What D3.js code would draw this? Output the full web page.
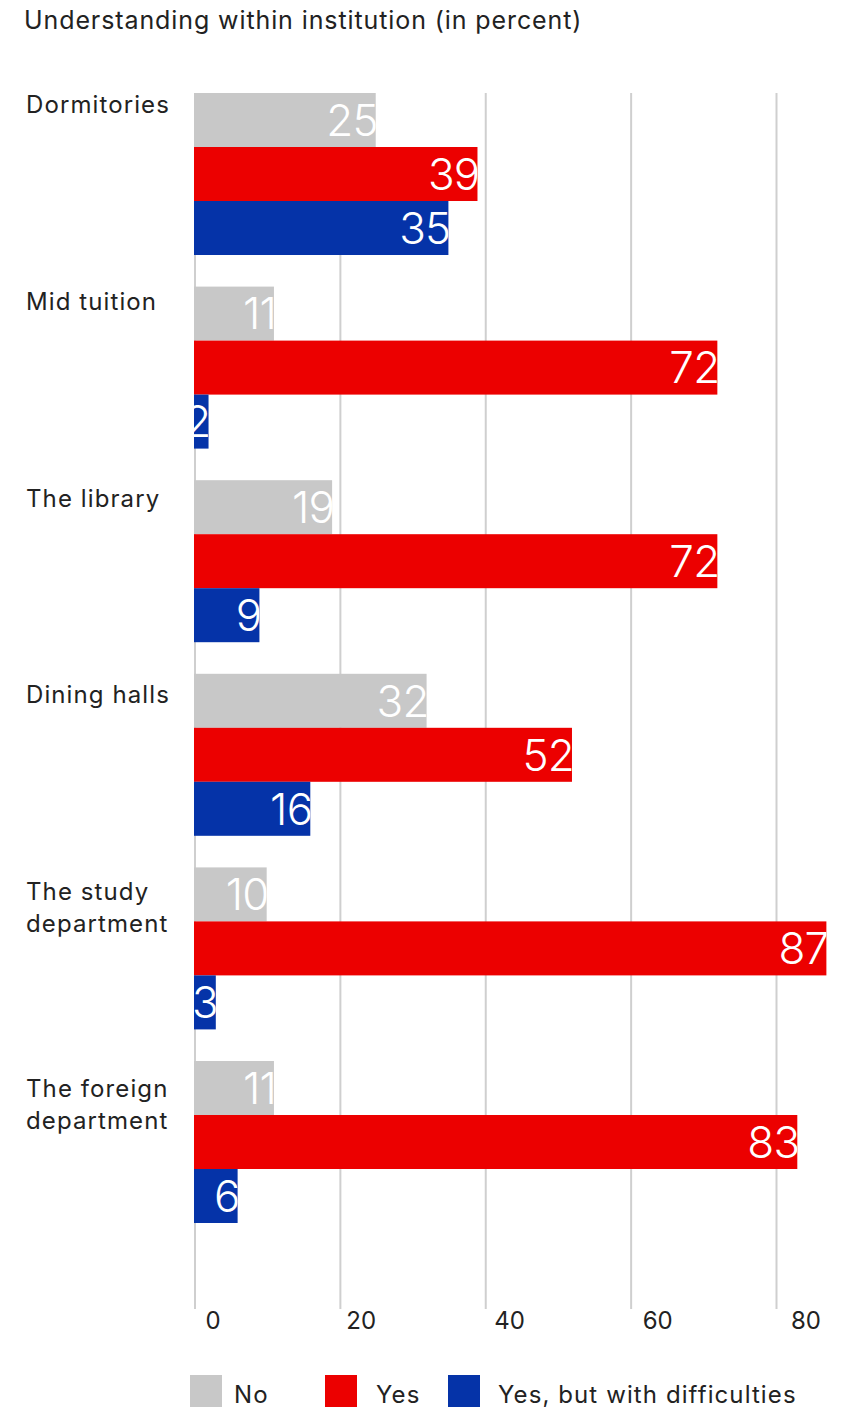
<!DOCTYPE html>
<html>
<head>
<meta charset="utf-8">
<script src="https://cdn.jsdelivr.net/npm/d3@7"></script>
<style>
  html, body { margin: 0; padding: 0; background: #ffffff; }
  svg { display: block; font-family: "Inter", "Noto Sans", sans-serif; }
</style>
</head>
<body>
<svg id="chart" width="866" height="1408"></svg>
<script>
// Survey: where respondents were understood within the institution (percent)
const title = "Understanding within institution (in percent)";
const categories = [
  "Dormitories",
  "Mid tuition",
  "The library",
  "Dining halls",
  "The study department",
  "The foreign department"
];
const seriesNames = ["No", "Yes", "Yes, but with difficulties"];
const noValues = [25, 11, 19, 32, 10, 11];
const yesValues = [39, 72, 72, 52, 87, 83];
const difficultValues = [35, 2, 9, 16, 3, 6];
const tickValues = [0, 20, 40, 60, 80];
const colors = ["#c8c8c8", "#ec0000", "#0533a8"];

const series = [noValues, yesValues, difficultValues];
const rows = categories.map((c, i) => ({
  category: c,
  values: series.map((s, k) => ({ key: seriesNames[k], value: s[i], idx: k }))
}));

const svg = d3.select("#chart");

const x = d3.scaleLinear().domain([0, 80]).range([194, 775.5]);
const y = d3.scaleBand().domain(categories).range([93, 1223]).paddingInner(0.1632).paddingOuter(0);
const ySub = d3.scaleBand().domain(seriesNames).range([0, y.bandwidth()]).padding(0);
// Row titles and tick labels sit on their own slightly wider spacing
const labelY = d3.scalePoint().domain(categories).range([105, 1089]);
const tickLabelX = d3.scaleLinear().domain([0, 80]).range([213, 806]);

const textStyle = (sel, size, spacing) => sel
  .attr("font-size", size).attr("letter-spacing", spacing).attr("fill", "#222");

// Title
svg.append("text")
  .attr("x", 24).attr("y", 29)
  .call(textStyle, 25, 0.9)
  .text(title);

// Vertical grid lines
const gridBottom = 1309;
svg.append("g").attr("class", "grid")
  .selectAll("line").data(tickValues).join("line")
  .attr("x1", d => x(d) + 1).attr("x2", d => x(d) + 1)
  .attr("y1", 93).attr("y2", gridBottom)
  .attr("stroke", "#cfcfcf").attr("stroke-width", 2);

// Tick labels
svg.append("g").attr("class", "ticks")
  .selectAll("text").data(tickValues).join("text")
  .attr("x", d => tickLabelX(d)).attr("y", 1329)
  .attr("text-anchor", "middle")
  .attr("font-size", 24).attr("fill", "#222")
  .text(d => d);

// Category labels (wrapped onto two lines where long)
const labelLines = c => c.startsWith("The ") && c.split(" ").length > 2
  ? [c.split(" ").slice(0, -1).join(" "), c.split(" ").slice(-1)[0]]
  : [c];
svg.append("g").attr("class", "cats")
  .selectAll("text").data(categories).join("text")
  .attr("x", 26).attr("y", d => labelY(d) + 8)
  .call(textStyle, 24, 1.1)
  .each(function (d) {
    d3.select(this).selectAll("tspan").data(labelLines(d)).join("tspan")
      .attr("x", 26).attr("dy", (l, i) => i === 0 ? 0 : 32)
      .text(l => l);
  });

// Bars with value labels clipped to each bar
const defs = svg.append("defs");
const groups = svg.append("g").attr("class", "bars")
  .selectAll("g").data(rows).join("g")
  .attr("transform", d => `translate(0,${y(d.category)})`);

groups.each(function (row, ri) {
  const g = d3.select(this);
  row.values.forEach(v => {
    const id = `clip-${ri}-${v.idx}`;
    const bx = x(0), by = ySub(v.key), bw = x(v.value) - x(0), bh = ySub.bandwidth();
    defs.append("clipPath").attr("id", id)
      .append("rect").attr("x", bx).attr("y", y(row.category) + by).attr("width", bw).attr("height", bh);
    g.append("rect")
      .attr("x", bx).attr("y", by).attr("width", bw).attr("height", bh)
      .attr("fill", colors[v.idx]);
    svg.append("text")
      .attr("clip-path", `url(#${id})`)
      .attr("x", x(v.value) + 2)
      .attr("y", y(row.category) + by + bh / 2)
      .attr("dy", "0.36em")
      .attr("text-anchor", "end")
      .attr("font-size", 44).attr("font-weight", 300)
      .attr("letter-spacing", -0.8)
      .attr("fill", "#ffffff")
      .text(v.value);
  });
});

// Legend
const legendX = [190, 325, 448];
const legendTextX = [44, 51, 50];
const legend = svg.append("g").attr("class", "legend")
  .selectAll("g").data(seriesNames).join("g")
  .attr("transform", (d, i) => `translate(${legendX[i]},1375)`);
legend.append("rect").attr("width", 32).attr("height", 32)
  .attr("fill", (d, i) => colors[i]);
legend.append("text").attr("x", (d, i) => legendTextX[i]).attr("y", 28)
  .call(textStyle, 24, 1.1)
  .text(d => d);
</script>
</body>
</html>
